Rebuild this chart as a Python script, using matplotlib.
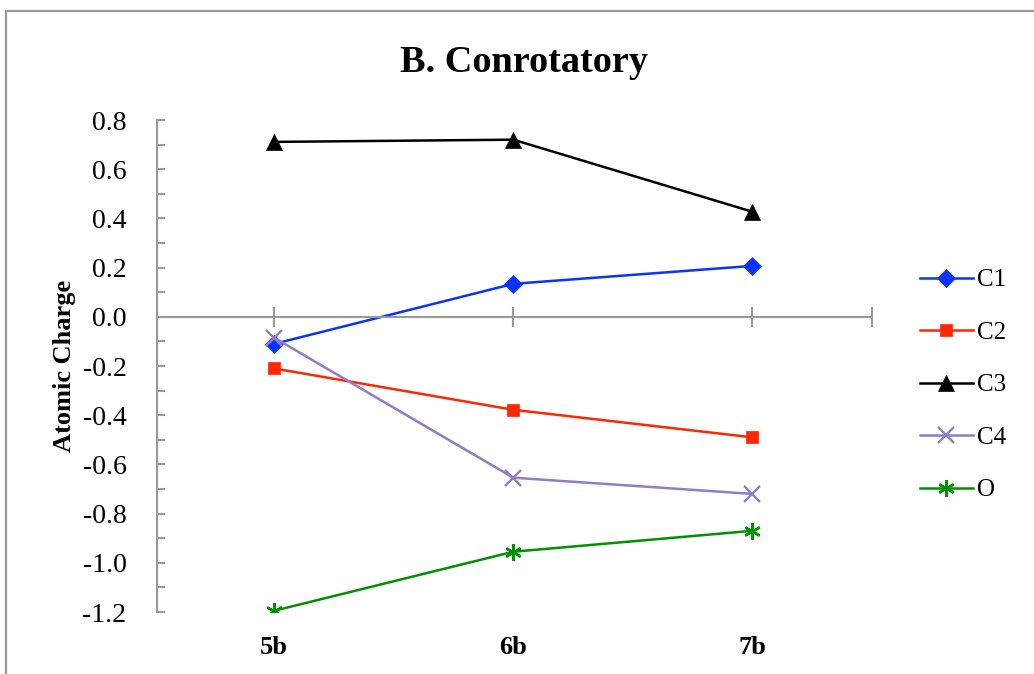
import matplotlib.pyplot as plt
from matplotlib.patches import Rectangle
from matplotlib.ticker import MultipleLocator
import numpy as np

categories = ["5b", "6b", "7b"]
c1 = [-0.11, 0.134, 0.207]
c2 = [-0.21, -0.378, -0.49]
c3 = [0.711, 0.72, 0.427]
c4 = [-0.085, -0.654, -0.72]
o = [-1.195, -0.955, -0.87]

plt.rcParams['font.family'] = ['Liberation Serif', 'DejaVu Serif']

fig = plt.figure(figsize=(10.34, 6.74), dpi=100)
ax = fig.add_axes([157 / 1034, 1 - 612 / 674, 715 / 1034, 492 / 674])

# outer chart frame (only top and left edges visible in the crop)
fig.patches.append(Rectangle((6 / 1034, -0.2), 1.2, 1.2 - 11 / 674,
                             transform=fig.transFigure, fill=False,
                             edgecolor='#999999', linewidth=1.6, clip_on=False))

x = np.arange(len(categories))
series = [
    ("C1", c1, '#0A32FF', 'D', 9),
    ("C2", c2, '#FF2600', 's', 9),
    ("C3", c3, '#000000', '^', 11),
    ("C4", c4, '#917DC0', 'x', 11),
    ("O", o, '#009100', (6, 2, 0), 12),
]
for name, vals, col, mk, ms in series:
    ax.plot(x, vals, color=col, marker=mk, markersize=ms, linewidth=1.8,
            markeredgewidth=1.7 if mk in ('x', (6, 2, 0)) else 0.5,
            markeredgecolor=col, label=name)

ax.set_xlim(-0.49, 2.5)
ax.set_ylim(-1.2, 0.8)

for s in ('top', 'right'):
    ax.spines[s].set_visible(False)
ax.spines['bottom'].set_position(('data', 0))
for s in ('left', 'bottom'):
    ax.spines[s].set_color('#999999')
    ax.spines[s].set_linewidth(1.5)

ax.yaxis.set_major_locator(MultipleLocator(0.2))
ax.yaxis.set_minor_locator(MultipleLocator(0.1))
ax.yaxis.set_major_formatter(plt.FuncFormatter(lambda v, p: "%.1f" % v))
ax.tick_params(axis='y', which='both', direction='in', length=6, width=1.5,
               color='#999999', labelsize=20, pad=22)

ax.set_xticks(list(x) + [2.5])
ax.set_xticklabels([])
ax.tick_params(axis='x', direction='inout', length=14, width=1.5, color='#999999')
for i, lab in enumerate(categories):
    ax.text(i, -0.072, lab, transform=ax.get_xaxis_transform(), ha='center',
            va='center', fontsize=19, fontweight='bold')

ax.set_ylabel("Atomic Charge", fontsize=19, fontweight='bold', labelpad=5)
fig.text(524 / 1034, 1 - 62 / 674, "B. Conrotatory", ha='center', va='center',
         fontsize=27.5, fontweight='bold')

fig.legend(loc='center left', bbox_to_anchor=(910 / 1034, 1 - 385 / 674),
           frameon=False, fontsize=18, handlelength=2.1, handletextpad=0.2,
           labelspacing=1.2, borderaxespad=0)

fig.savefig("out.png", dpi=100)
